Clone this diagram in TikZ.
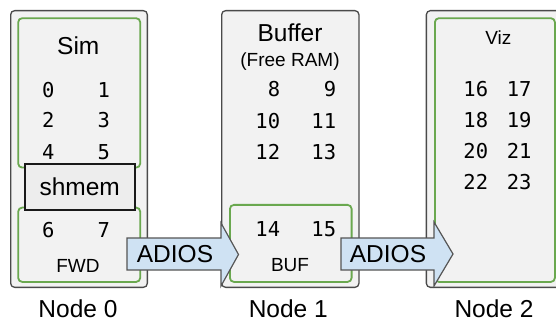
\documentclass[tikz,border=0pt]{standalone}
\usepackage{fontspec}
\setmainfont{Liberation Sans}
\newfontfamily\monof{DejaVu Sans Mono}
\definecolor{boxfill}{HTML}{F2F2F2}
\definecolor{boxline}{HTML}{4A4A4A}
\definecolor{grnline}{HTML}{6AA84F}
\definecolor{arrfill}{HTML}{CFE2F3}
\definecolor{arrline}{HTML}{555555}
\definecolor{shfill}{HTML}{EDEDED}
\tikzset{
  outerbox/.style={draw=boxline, fill=boxfill, rounded corners=4pt, line width=1.3pt, rectangle, inner sep=0pt, anchor=north west},
  grnbox/.style={draw=grnline, rounded corners=4pt, line width=1.8pt, rectangle, inner sep=0pt, anchor=north west},
  shbox/.style={draw=black!90, fill=shfill, line width=1.5pt, rectangle, inner sep=0pt, anchor=north west},
  blockarrow/.style={draw=arrline, fill=arrfill, line width=1.2pt, line join=miter},
  big/.style={inner sep=0pt, text height=17.5pt, text depth=0pt, font=\fontsize{24.5}{26}\selectfont},
  mid/.style={inner sep=0pt, text height=13.6pt, text depth=0pt, font=\fontsize{19}{21}\selectfont},
  num/.style={inner sep=0pt, text height=14.9pt, text depth=0pt, font=\monof\fontsize{20.5}{22}\selectfont},
}
\begin{document}
\begin{tikzpicture}[x=1pt,y=-1pt]
\useasboundingbox (0,0) rectangle (556,320);
\clip (0,0) rectangle (556,320);

% outer node boxes
\node[outerbox, minimum width=136.7pt, minimum height=276.7pt] (n0) at (10,10) {};
\node[outerbox, minimum width=137.3pt, minimum height=276.7pt] (n1) at (221,10) {};
\node[outerbox, minimum width=140pt, minimum height=276.7pt] (n2) at (425.7,10) {};

% green inner boxes
\node[grnbox, minimum width=122pt, minimum height=149.4pt] (sim) at (17.3,17.3) {};
\node[grnbox, minimum width=122pt, minimum height=74.3pt] (fwd) at (17.3,206.7) {};
\node[grnbox, minimum width=121.7pt, minimum height=77pt] (buf) at (229,204) {};
\node[grnbox, minimum width=120pt, minimum height=263.7pt] (viz) at (434,17.3) {};

% titles
\node[big] (tsim) at (78.3,45.7) {Sim};
\node[big] (tbuffer) at (290,32.3) {Buffer};
\node[mid] (tfree) at (290,60.2) {(Free RAM)};
\node[mid] (tviz) at (498.3,37.5) {Viz};
\node[mid] (tfwd) at (78,266) {FWD};
\node[mid] (tbuf) at (290,265) {BUF};

% numbers node 0
\node[num] (d0) at (48.3,89.7) {0};
\node[num] (d1) at (103.7,89.7) {1};
\node[num] (d2) at (48.3,120.3) {2};
\node[num] (d3) at (103.7,120.3) {3};
\node[num] (d4) at (48.3,152) {4};
\node[num] (d5) at (103.7,152) {5};
\node[num] (d6) at (48.3,229.7) {6};
\node[num] (d7) at (103.7,229.7) {7};

% numbers node 1
\node[num, anchor=east] (d8) at (280.3,89.2) {8};
\node[num, anchor=east] (d9) at (336.3,89.2) {9};
\node[num, anchor=east] (d10) at (280.3,120.8) {10};
\node[num, anchor=east] (d11) at (336.3,120.8) {11};
\node[num, anchor=east] (d12) at (280.3,151.7) {12};
\node[num, anchor=east] (d13) at (336.3,151.7) {13};
\node[num, anchor=east] (d14) at (280.3,229) {14};
\node[num, anchor=east] (d15) at (336.3,229) {15};

% numbers node 2
\node[num] (d16) at (475.8,89.3) {16};
\node[num] (d17) at (519.2,89.3) {17};
\node[num] (d18) at (475.8,120) {18};
\node[num] (d19) at (519.2,120) {19};
\node[num] (d20) at (475.8,151) {20};
\node[num] (d21) at (519.2,151) {21};
\node[num] (d22) at (475.8,181.7) {22};
\node[num] (d23) at (519.2,181.7) {23};

% shmem
\node[shbox, minimum width=110pt, minimum height=46pt] (shm) at (24,163.3) {};
\node[big] (tshm) at (shm.center) {shmem};

% ADIOS block arrows
\draw[blockarrow] (127,238) -- (221,238) -- (221,223) -- (238.5,254.5) -- (221,286) -- (221,270) -- (127,270) -- cycle;
\node[big] (a1) at (175,254) {ADIOS};
\draw[blockarrow] (341,238) -- (434,238) -- (434,222) -- (453,254) -- (434,286) -- (434,270) -- (341,270) -- cycle;
\node[big] (a2) at (388,254) {ADIOS};

% node labels
\node[big] (l0) at (78,308.8) {Node 0};
\node[big] (l1) at (288.3,308.8) {Node 1};
\node[big] (l2) at (494,308.8) {Node 2};
\end{tikzpicture}
\end{document}
